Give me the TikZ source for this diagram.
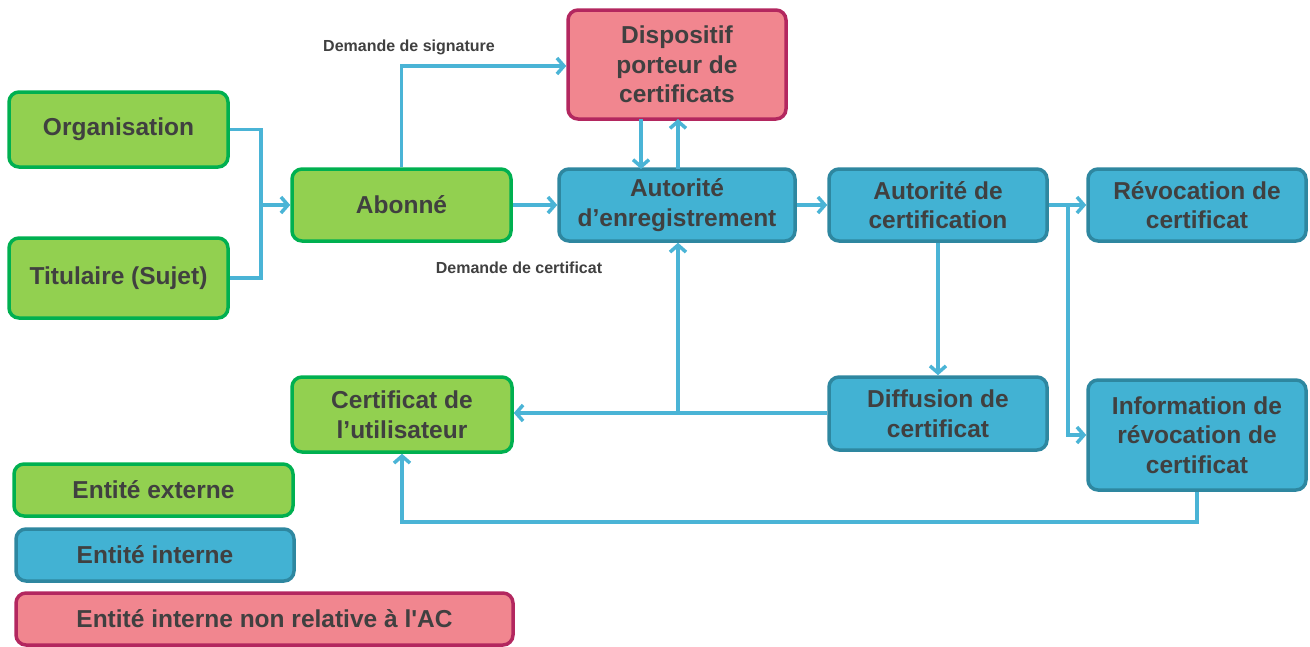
\documentclass[tikz,border=0pt]{standalone}
\usepackage{fontspec}
\setmainfont{Liberation Sans}
\newfontfamily\plainfont{Liberation Sans}
\usetikzlibrary{arrows.meta}
\definecolor{gfill}{HTML}{92D050}
\definecolor{gdraw}{HTML}{00B050}
\definecolor{bfill}{HTML}{42B2D3}
\definecolor{bdraw}{HTML}{2E87A0}
\definecolor{pfill}{HTML}{F1868F}
\definecolor{pdraw}{HTML}{B3275F}
\definecolor{arr}{HTML}{4AB4D6}
\definecolor{txt}{HTML}{404040}
\tikzset{
  x=1pt,y=-1pt,
  box/.style={rounded corners=10pt,line width=3.5pt,inner sep=0pt,align=center,
    text=txt,font=\fontsize{24.5}{29.5}\selectfont\bfseries},
  gbox/.style={box,fill=gfill,draw=gdraw},
  bbox/.style={box,fill=bfill,draw=bdraw},
  pbox/.style={box,fill=pfill,draw=pdraw},
  conn/.style={draw=arr,line width=3.5pt},
  arrow/.style={conn,-{Straight Barb[length=7pt,width=16pt,line width=3.5pt]}},
  lbl/.style={text=txt,font=\fontsize{16}{18}\selectfont\bfseries,inner sep=0pt},
}
\begin{document}
\begin{tikzpicture}
\useasboundingbox (0,0) rectangle (1310,646);
% nodes
\node[gbox,minimum width=219pt,minimum height=75pt] (org) at (118.5,129.5) {Organisation};
\node[gbox,minimum width=219pt,minimum height=80pt] (tit) at (118.5,278) {Titulaire (Sujet)};
\node[gbox,minimum width=219pt,minimum height=72pt] (abo) at (401.5,205) {Abonné};
\node[pbox,minimum width=218pt,minimum height=109pt] (disp) at (677,64.5) {Dispositif\\porteur de\\certificats};
\node[bbox,minimum width=236pt,minimum height=72pt] (ae) at (677,205) {Autorité\\d’enregistrement};
\node[bbox,minimum width=218pt,minimum height=72pt] (ac) at (938,205) {Autorité de\\certification};
\node[bbox,minimum width=218pt,minimum height=72pt] (rev) at (1197,205) {Révocation de\\certificat};
\node[bbox,minimum width=218pt,minimum height=73pt] (dif) at (938,413.5) {Diffusion de\\certificat};
\node[bbox,minimum width=218pt,minimum height=110pt] (info) at (1197,435) {Information de\\révocation de\\certificat};
\node[gbox,minimum width=220pt,minimum height=75pt] (cert) at (402,414.5) {Certificat de\\l’utilisateur};
\node[gbox,minimum width=279pt,minimum height=52pt] (leg1) at (153.5,490) {Entité externe};
\node[bbox,minimum width=278pt,minimum height=52pt] (leg2) at (155,555) {Entité interne};
\node[pbox,minimum width=497pt,minimum height=52pt] (leg3) at (264.5,619) {\plainfont Entité interne non relative à l'AC};
% labels
\node[lbl] (l1) at (409,47) {Demande de signature};
\node[lbl] (l2) at (519,268) {Demande de certificat};
% coordinates
\coordinate (j1) at (261,205);
\coordinate (j2) at (1068,205);
\coordinate (j3) at (678,413);
% connectors
\draw[conn] (org.east) -| (j1) |- (tit.east);
\draw[arrow] (j1) -- (abo.west);
\draw[arrow] (abo.north) |- (disp.west |- 0,66);
\draw[arrow] (abo.east) -- (ae.west);
\draw[arrow] (641,119) -- (641,169);
\draw[arrow] (678,169) -- (678,119);
\draw[arrow] (ae.east) -- (ac.west);
\draw[arrow] (ac.east) -- (rev.west);
\draw[arrow] (j2) |- (info.west);
\draw[arrow] (ac.south) -- (dif.north);
\draw[arrow] (dif.west |- j3) -- (cert.east |- j3);
\draw[arrow] (j3) -- (ae.south -| j3);
\draw[arrow] (info.south) -- (1197,522) -| (cert.south);
\end{tikzpicture}
\end{document}
